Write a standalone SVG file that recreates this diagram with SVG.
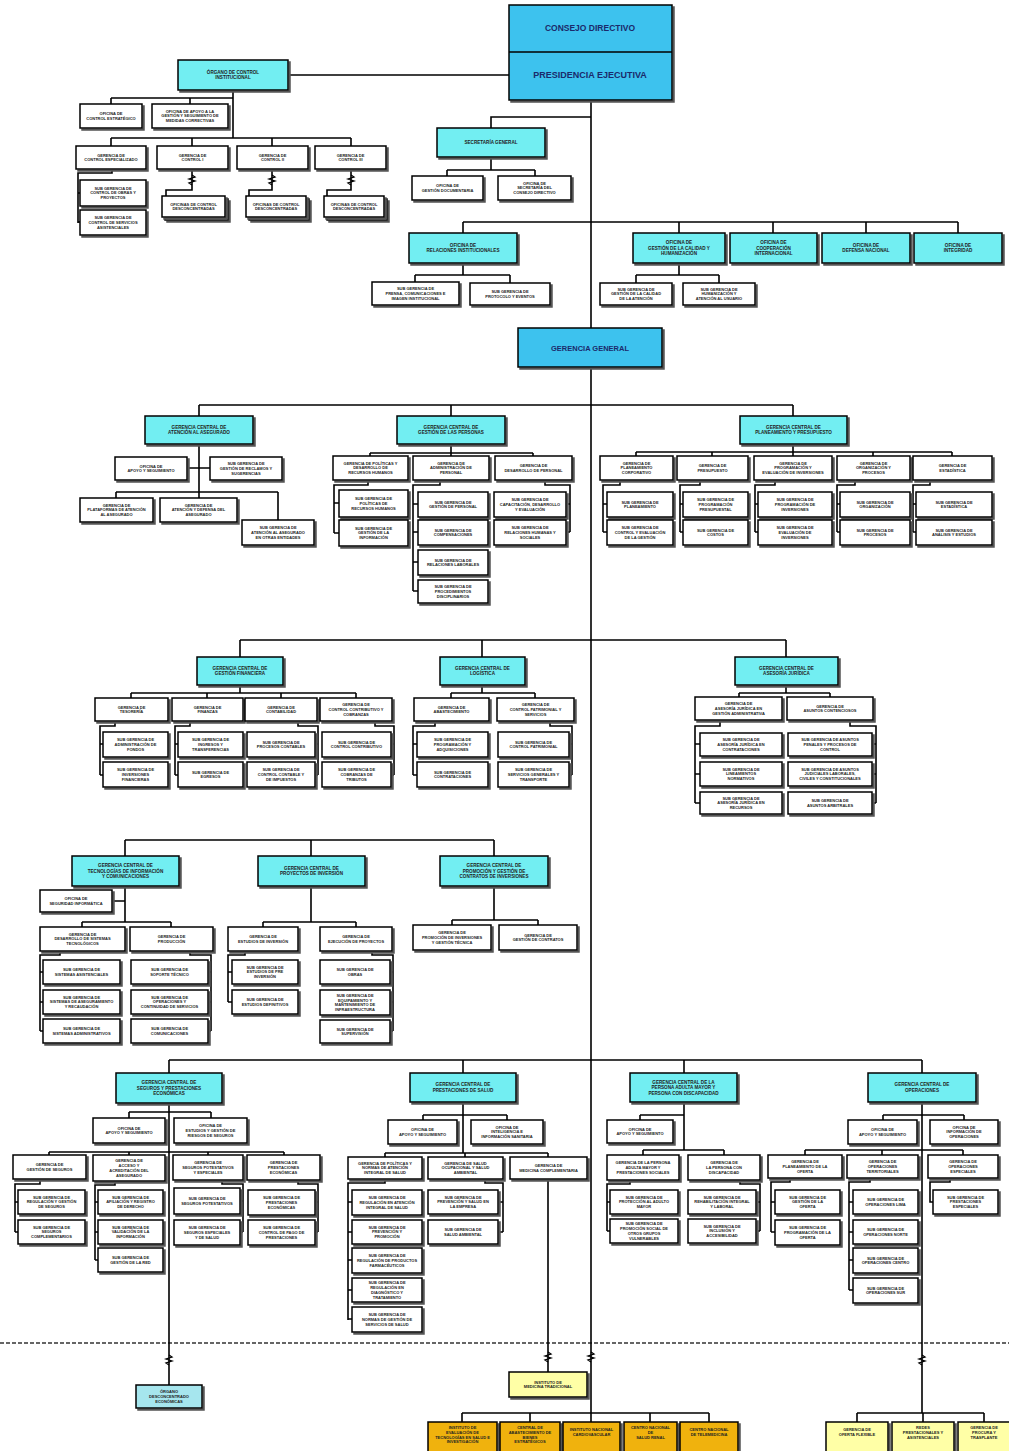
<svg xmlns="http://www.w3.org/2000/svg" width="1009" height="1451" viewBox="0 0 1009 1451">
<defs>
<filter id="ds" x="-10%" y="-10%" width="130%" height="150%">
<feOffset in="SourceAlpha" dx="2" dy="2" result="o"/>
<feFlood flood-color="#555"/>
<feComposite in2="o" operator="in"/>
<feMerge><feMergeNode/><feMergeNode in="SourceGraphic"/></feMerge>
</filter>
<style>
.w{fill:#fff;stroke:#000;stroke-width:1.5;filter:url(#ds)}
.c{fill:#72EEF2;stroke:#000;stroke-width:1.5;filter:url(#ds)}
.b{fill:#3CC2EE;stroke:#000;stroke-width:1.5;filter:url(#ds)}
.o{fill:#F0B210;stroke:#000;stroke-width:1.5;filter:url(#ds)}
.y{fill:#FFFFA6;stroke:#000;stroke-width:1.5;filter:url(#ds)}
.lb{fill:#A6E6EE;stroke:#000;stroke-width:1.5;filter:url(#ds)}
.t{font-family:"Liberation Sans",Arial,sans-serif;font-weight:bold;font-size:4px;text-anchor:middle;fill:#222}
.tc{font-family:"Liberation Sans",Arial,sans-serif;font-weight:bold;font-size:4.6px;text-anchor:middle;fill:#222}
.tb{font-family:"Liberation Sans",Arial,sans-serif;font-weight:bold;text-anchor:middle;fill:#1b2a6b}
.ln{fill:none;stroke:#000;stroke-width:1.6}
.br{fill:none;stroke:#000;stroke-width:1.3}
.dash{fill:none;stroke:#333;stroke-width:1.5;stroke-dasharray:4 2}
</style>
</defs>
<rect width="1009" height="1451" fill="#fff"/>

<g id="connectors">
<path class="dash" d="M0,1343H1009"/>
<path class="ln" d="M591,100V328M591,367V1413"/>
<path class="ln" d="M288,75H509M233,90V138M111,98H233M111,98V104M190,98V104M111,138H351M111,138V146M192,138V146M272,138V146M351,138V146"/>
<path class="ln" d="M112,169V173H78V223M78,193H80M78,222H80M192,169V190H166V196M272,169V190H249V196M351,169V190H327V196"/>
<path class="br" d="M192,175l3,2l-6,2l6,2l-6,2l3,2M272,175l3,2l-6,2l6,2l-6,2l3,2M351,175l3,2l-6,2l6,2l-6,2l3,2"/>
<path class="ln" d="M591,117H491V128M491,157V170M447,170H535M447,170V176M535,170V176"/>
<path class="ln" d="M463,222H958M463,222V233M679,222V233M773,222V233M866,222V233M958,222V233"/>
<path class="ln" d="M463,263V275M415,275H510M415,275V282M510,275V283M679,263V275M636,275H719M636,275V283M719,275V283"/>
<path class="ln" d="M199,405H793M199,405V416M451,405V416M793,405V416"/>
<path class="ln" d="M199,444V498M187,468H210M116,492H278M116,492V498M278,492V520"/>
<path class="ln" d="M451,444V456M370,453H533M370,453V456M533,453V456"/>
<path class="ln" d="M368,480V485H334V533M334,503H339M334,533H339M440,480V485H413V591M413,504H418M413,532H418M413,562H418M413,591H418M545,480V485H570V532M570,504H566M570,532H566"/>
<path class="ln" d="M793,444V456M636,452H952M636,452V456M712,452V456M873,452V456M952,452V456"/>
<path class="ln" d="M620,480V485H603V532M603,504H607M603,532H607M700,480V485H680V532M680,504H683M680,532H683M775,480V485H755V532M755,504H758M755,532H758M855,480V485H837V532M837,504H840M837,532H840M930,480V485H913V532M913,504H916M913,532H916"/>
<path class="ln" d="M240,640H786M240,640V657M482,640V657M786,640V657"/>
<path class="ln" d="M240,685V693M131,693H356M131,693V698M207,693V698M281,693V698M356,693V698"/>
<path class="ln" d="M115,721V726H100V775M100,744H103M100,775H103M190,721V726H175V775M175,744H178M175,775H178M298,721V726H318V775M318,744H315M318,775H315M375,721V726H394V775M394,744H391M394,775H391"/>
<path class="ln" d="M482,685V693M451,693H535M451,693V698M535,693V698M435,721V726H413V775M413,744H417M413,775H417M550,721V726H572V775M572,744H569M572,775H569"/>
<path class="ln" d="M786,685V693M739,693H830M739,693V697M830,693V697M720,720V726H695V803M695,744H700M695,774H700M695,803H700M850,720V726H876V803M876,744H872M876,774H872M876,803H872"/>
<path class="ln" d="M125,840H494M125,840V856M311,840V856M494,840V856"/>
<path class="ln" d="M125,886V922M112,901H125M82,922H171M82,922V927M171,922V927M60,951V955H40V1031M40,972H43M40,1002H43M40,1031H43M190,951V955H211V1031M211,972H208M211,1002H208M211,1031H208"/>
<path class="ln" d="M311,886V922M263,922H356M263,922V927M356,922V927M245,951V955H228V1002M228,972H232M228,1002H232M372,951V955H393V1031M393,972H390M393,1002H390M393,1031H390"/>
<path class="ln" d="M494,886V920M452,920H538M452,920V925M538,920V925"/>
<path class="ln" d="M169,1060H922M169,1060V1073M463,1060V1073M684,1060V1073M922,1060V1073"/>
<path class="ln" d="M169,1103V1385M129,1112H211M129,1112V1118M211,1112V1118M49,1152H284M49,1152V1155M129,1152V1155M208,1152V1155M284,1152V1155"/>
<path class="ln" d="M40,1179V1184H15V1232M15,1202H18M15,1232H18M115,1181V1185H95V1260M95,1202H98M95,1232H98M95,1260H98M222,1180V1184H243V1232M243,1201H240M243,1232H240M298,1180V1184H318V1232M318,1202H315M318,1232H315"/>
<path class="ln" d="M463,1102V1153M423,1115H507M423,1115V1120M507,1115V1120M385,1153H548M385,1153V1157M465,1153V1157M548,1153V1157"/>
<path class="ln" d="M385,1179V1183H348V1320M348,1202H352M348,1232H352M348,1260H352M348,1290H352M348,1319H352M485,1179V1183H503V1232M503,1202H498M503,1232H498M548,1179V1372"/>
<path class="ln" d="M684,1102V1150M640,1115H684M640,1115V1120M643,1150H724M643,1150V1155M724,1150V1155M630,1180V1184H607V1231M607,1202H610M607,1231H610M740,1180V1184H760V1231M760,1202H756M760,1231H756"/>
<path class="ln" d="M922,1102V1413M883,1115H964M883,1115V1120M964,1115V1120M805,1150H963M805,1150V1155M882,1150V1155M963,1150V1155"/>
<path class="ln" d="M790,1178V1182H771V1232M771,1202H775M771,1232H775M870,1178V1182H849V1290M849,1202H853M849,1232H853M849,1260H853M849,1290H853M950,1178V1182H930V1202H933"/>
<path class="ln" d="M462,1413H709M462,1413V1422M530,1413V1422M591,1413V1422M650,1413V1422M709,1413V1422M857,1413H984M857,1413V1422M923,1413V1422M984,1413V1422"/>
<path class="br" d="M169,1355l3,2l-6,2l6,2l-6,2l3,2M548,1352l3,2l-6,2l6,2l-6,2l3,2M591,1352l3,2l-6,2l6,2l-6,2l3,2M922,1355l3,2l-6,2l6,2l-6,2l3,2"/>
</g>

<g id="presidencia">
<rect class="b" x="509" y="5" width="163" height="95"/>
<path d="M509,52H672" stroke="#000" stroke-width="1.5"/>
<text class="tb" x="590" y="31" font-size="8.5">CONSEJO DIRECTIVO</text>
<text class="tb" x="590" y="78" font-size="9">PRESIDENCIA EJECUTIVA</text>
</g>

<g id="oci">
<rect class="c" x="178" y="60" width="110" height="30"/>
<text class="tc" x="233" y="74">ÓRGANO DE CONTROL<tspan x="233" dy="5.4">INSTITUCIONAL</tspan></text>
</g>
<g id="oci-1"><rect class="w" x="80" y="104" width="62" height="24"/><text class="t" x="111" y="115">OFICINA DE<tspan x="111" dy="4.8">CONTROL ESTRATÉGICO</tspan></text></g>
<g id="oci-2"><rect class="w" x="152" y="104" width="76" height="24"/><text class="t" x="190" y="112.6">OFICINA DE APOYO A LA<tspan x="190" dy="4.8">GESTIÓN Y SEGUIMIENTO DE</tspan><tspan x="190" dy="4.8">MEDIDAS CORRECTIVAS</tspan></text></g>
<g id="oci-3"><rect class="w" x="76" y="146" width="70" height="23"/><text class="t" x="111" y="156.5">GERENCIA DE<tspan x="111" dy="4.8">CONTROL ESPECIALIZADO</tspan></text></g>
<g id="oci-4"><rect class="w" x="157" y="146" width="71" height="23"/><text class="t" x="192.5" y="156.5">GERENCIA DE<tspan x="192.5" dy="4.8">CONTROL I</tspan></text></g>
<g id="oci-5"><rect class="w" x="237" y="146" width="71" height="23"/><text class="t" x="272.5" y="156.5">GERENCIA DE<tspan x="272.5" dy="4.8">CONTROL II</tspan></text></g>
<g id="oci-6"><rect class="w" x="315" y="146" width="71" height="23"/><text class="t" x="350.5" y="156.5">GERENCIA DE<tspan x="350.5" dy="4.8">CONTROL III</tspan></text></g>
<g id="oci-7"><rect class="w" x="80" y="180" width="66" height="26"/><text class="t" x="113" y="189.6">SUB GERENCIA DE<tspan x="113" dy="4.8">CONTROL DE OBRAS Y</tspan><tspan x="113" dy="4.8">PROYECTOS</tspan></text></g>
<g id="oci-8"><rect class="w" x="80" y="210" width="66" height="25"/><text class="t" x="113" y="219.1">SUB GERENCIA DE<tspan x="113" dy="4.8">CONTROL DE SERVICIOS</tspan><tspan x="113" dy="4.8">ASISTENCIALES</tspan></text></g>
<g id="oci-9"><rect class="w" x="165" y="199" width="63" height="21"/><rect class="w" x="162" y="196" width="63" height="21"/><text class="t" x="193.5" y="205.5">OFICINAS DE CONTROL<tspan x="193.5" dy="4.8">DESCONCENTRADAS</tspan></text></g>
<g id="oci-10"><rect class="w" x="249" y="199" width="60" height="21"/><rect class="w" x="246" y="196" width="60" height="21"/><text class="t" x="276" y="205.5">OFICINAS DE CONTROL<tspan x="276" dy="4.8">DESCONCENTRADAS</tspan></text></g>
<g id="oci-11"><rect class="w" x="327" y="199" width="60" height="21"/><rect class="w" x="324" y="196" width="60" height="21"/><text class="t" x="354" y="205.5">OFICINAS DE CONTROL<tspan x="354" dy="4.8">DESCONCENTRADAS</tspan></text></g>

<g id="secretaria"><rect class="c" x="437" y="128" width="108" height="29"/><text class="tc" x="491" y="144.1">SECRETARÍA GENERAL</text></g>
<g id="sg-1"><rect class="w" x="412" y="176" width="71" height="24"/><text class="t" x="447.5" y="187">OFICINA DE<tspan x="447.5" dy="4.8">GESTIÓN DOCUMENTARIA</tspan></text></g>
<g id="sg-2"><rect class="w" x="498" y="176" width="73" height="24"/><text class="t" x="534.5" y="184.6">OFICINA DE<tspan x="534.5" dy="4.8">SECRETARÍA DEL</tspan><tspan x="534.5" dy="4.8">CONSEJO DIRECTIVO</tspan></text></g>

<g id="of-ri"><rect class="c" x="409" y="233" width="108" height="30"/><text class="tc" x="463" y="246.9">OFICINA DE<tspan x="463" dy="5.4">RELACIONES INSTITUCIONALES</tspan></text></g>
<g id="of-cal"><rect class="c" x="633" y="233" width="92" height="30"/><text class="tc" x="679" y="244.2">OFICINA DE<tspan x="679" dy="5.4">GESTIÓN DE LA CALIDAD Y</tspan><tspan x="679" dy="5.4">HUMANIZACIÓN</tspan></text></g>
<g id="of-coop"><rect class="c" x="730" y="233" width="87" height="30"/><text class="tc" x="773.5" y="244.2">OFICINA DE<tspan x="773.5" dy="5.4">COOPERACIÓN</tspan><tspan x="773.5" dy="5.4">INTERNACIONAL</tspan></text></g>
<g id="of-def"><rect class="c" x="822" y="233" width="88" height="30"/><text class="tc" x="866" y="246.9">OFICINA DE<tspan x="866" dy="5.4">DEFENSA NACIONAL</tspan></text></g>
<g id="of-int"><rect class="c" x="914" y="233" width="88" height="30"/><text class="tc" x="958" y="246.9">OFICINA DE<tspan x="958" dy="5.4">INTEGRIDAD</tspan></text></g>
<g id="ri-1"><rect class="w" x="372" y="282" width="87" height="23"/><text class="t" x="415.5" y="290.1">SUB GERENCIA DE<tspan x="415.5" dy="4.8">PRENSA, COMUNICACIONES E</tspan><tspan x="415.5" dy="4.8">IMAGEN INSTITUCIONAL</tspan></text></g>
<g id="ri-2"><rect class="w" x="470" y="283" width="80" height="22"/><text class="t" x="510" y="293">SUB GERENCIA DE<tspan x="510" dy="4.8">PROTOCOLO Y EVENTOS</tspan></text></g>
<g id="cal-1"><rect class="w" x="600" y="283" width="72" height="22"/><text class="t" x="636" y="290.6">SUB GERENCIA DE<tspan x="636" dy="4.8">GESTIÓN DE LA CALIDAD</tspan><tspan x="636" dy="4.8">DE LA ATENCIÓN</tspan></text></g>
<g id="cal-2"><rect class="w" x="683" y="283" width="72" height="22"/><text class="t" x="719" y="290.6">SUB GERENCIA DE<tspan x="719" dy="4.8">HUMANIZACIÓN Y</tspan><tspan x="719" dy="4.8">ATENCIÓN AL USUARIO</tspan></text></g>

<g id="gerencia-general"><rect class="b" x="518" y="328" width="144" height="39"/><text class="tb" x="590" y="350.5" font-size="7.5">GERENCIA GENERAL</text></g>

<g id="gc-atencion"><rect class="c" x="145" y="416" width="108" height="28"/><text class="tc" x="199" y="428.9">GERENCIA CENTRAL DE<tspan x="199" dy="5.4">ATENCIÓN AL ASEGURADO</tspan></text></g>
<g id="ga-1"><rect class="w" x="115" y="457" width="72" height="23"/><text class="t" x="151" y="467.5">OFICINA DE<tspan x="151" dy="4.8">APOYO Y SEGUIMIENTO</tspan></text></g>
<g id="ga-2"><rect class="w" x="210" y="457" width="72" height="23"/><text class="t" x="246" y="465.1">SUB GERENCIA DE<tspan x="246" dy="4.8">GESTIÓN DE RECLAMOS Y</tspan><tspan x="246" dy="4.8">SUGERENCIAS</tspan></text></g>
<g id="ga-3"><rect class="w" x="80" y="498" width="73" height="24"/><text class="t" x="116.5" y="506.6">GERENCIA DE<tspan x="116.5" dy="4.8">PLATAFORMAS DE ATENCIÓN</tspan><tspan x="116.5" dy="4.8">AL ASEGURADO</tspan></text></g>
<g id="ga-4"><rect class="w" x="160" y="498" width="77" height="24"/><text class="t" x="198.5" y="506.6">GERENCIA DE<tspan x="198.5" dy="4.8">ATENCIÓN Y DEFENSA DEL</tspan><tspan x="198.5" dy="4.8">ASEGURADO</tspan></text></g>
<g id="ga-5"><rect class="w" x="242" y="520" width="72" height="25"/><text class="t" x="278" y="529.1">SUB GERENCIA DE<tspan x="278" dy="4.8">ATENCIÓN AL ASEGURADO</tspan><tspan x="278" dy="4.8">EN OTRAS ENTIDADES</tspan></text></g>

<g id="gc-personas"><rect class="c" x="397" y="416" width="108" height="28"/><text class="tc" x="451" y="428.9">GERENCIA CENTRAL DE<tspan x="451" dy="5.4">GESTIÓN DE LAS PERSONAS</tspan></text></g>
<g id="gp-1"><rect class="w" x="333" y="456" width="75" height="24"/><text class="t" x="370.5" y="464.6">GERENCIA DE POLÍTICAS Y<tspan x="370.5" dy="4.8">DESARROLLO DE</tspan><tspan x="370.5" dy="4.8">RECURSOS HUMANOS</tspan></text></g>
<g id="gp-2"><rect class="w" x="413" y="456" width="76" height="24"/><text class="t" x="451" y="464.6">GERENCIA DE<tspan x="451" dy="4.8">ADMINISTRACIÓN DE</tspan><tspan x="451" dy="4.8">PERSONAL</tspan></text></g>
<g id="gp-3"><rect class="w" x="495" y="456" width="77" height="24"/><text class="t" x="533.5" y="467">GERENCIA DE<tspan x="533.5" dy="4.8">DESARROLLO DE PERSONAL</tspan></text></g>
<g id="gp-4"><rect class="w" x="339" y="490" width="69" height="27"/><text class="t" x="373.5" y="500.1">SUB GERENCIA DE<tspan x="373.5" dy="4.8">POLÍTICAS DE</tspan><tspan x="373.5" dy="4.8">RECURSOS HUMANOS</tspan></text></g>
<g id="gp-5"><rect class="w" x="339" y="520" width="69" height="26"/><text class="t" x="373.5" y="529.6">SUB GERENCIA DE<tspan x="373.5" dy="4.8">GESTIÓN DE LA</tspan><tspan x="373.5" dy="4.8">INFORMACIÓN</tspan></text></g>
<g id="gp-6"><rect class="w" x="418" y="492" width="70" height="25"/><text class="t" x="453" y="503.5">SUB GERENCIA DE<tspan x="453" dy="4.8">GESTIÓN DE PERSONAL</tspan></text></g>
<g id="gp-7"><rect class="w" x="418" y="520" width="70" height="25"/><text class="t" x="453" y="531.5">SUB GERENCIA DE<tspan x="453" dy="4.8">COMPENSACIONES</tspan></text></g>
<g id="gp-8"><rect class="w" x="418" y="550" width="70" height="25"/><text class="t" x="453" y="561.5">SUB GERENCIA DE<tspan x="453" dy="4.8">RELACIONES LABORALES</tspan></text></g>
<g id="gp-9"><rect class="w" x="418" y="580" width="70" height="23"/><text class="t" x="453" y="588.1">SUB GERENCIA DE<tspan x="453" dy="4.8">PROCEDIMIENTOS</tspan><tspan x="453" dy="4.8">DISCIPLINARIOS</tspan></text></g>
<g id="gp-10"><rect class="w" x="494" y="492" width="72" height="25"/><text class="t" x="530" y="501.1">SUB GERENCIA DE<tspan x="530" dy="4.8">CAPACITACIÓN, DESARROLLO</tspan><tspan x="530" dy="4.8">Y EVALUACIÓN</tspan></text></g>
<g id="gp-11"><rect class="w" x="494" y="520" width="72" height="25"/><text class="t" x="530" y="529.1">SUB GERENCIA DE<tspan x="530" dy="4.8">RELACIONES HUMANAS Y</tspan><tspan x="530" dy="4.8">SOCIALES</tspan></text></g>

<g id="gc-planeamiento"><rect class="c" x="740" y="416" width="107" height="28"/><text class="tc" x="793.5" y="428.9">GERENCIA CENTRAL DE<tspan x="793.5" dy="5.4">PLANEAMIENTO Y PRESUPUESTO</tspan></text></g>
<g id="pp-1"><rect class="w" x="600" y="456" width="73" height="24"/><text class="t" x="636.5" y="464.6">GERENCIA DE<tspan x="636.5" dy="4.8">PLANEAMIENTO</tspan><tspan x="636.5" dy="4.8">CORPORATIVO</tspan></text></g>
<g id="pp-2"><rect class="w" x="677" y="456" width="71" height="24"/><text class="t" x="712.5" y="467">GERENCIA DE<tspan x="712.5" dy="4.8">PRESUPUESTO</tspan></text></g>
<g id="pp-3"><rect class="w" x="754" y="456" width="78" height="24"/><text class="t" x="793" y="464.6">GERENCIA DE<tspan x="793" dy="4.8">PROGRAMACIÓN Y</tspan><tspan x="793" dy="4.8">EVALUACIÓN DE INVERSIONES</tspan></text></g>
<g id="pp-4"><rect class="w" x="837" y="456" width="73" height="24"/><text class="t" x="873.5" y="464.6">GERENCIA DE<tspan x="873.5" dy="4.8">ORGANIZACIÓN Y</tspan><tspan x="873.5" dy="4.8">PROCESOS</tspan></text></g>
<g id="pp-5"><rect class="w" x="913" y="456" width="79" height="24"/><text class="t" x="952.5" y="467">GERENCIA DE<tspan x="952.5" dy="4.8">ESTADÍSTICA</tspan></text></g>
<g id="pp-6"><rect class="w" x="607" y="492" width="66" height="25"/><text class="t" x="640" y="503.5">SUB GERENCIA DE<tspan x="640" dy="4.8">PLANEAMIENTO</tspan></text></g>
<g id="pp-7"><rect class="w" x="607" y="520" width="66" height="25"/><text class="t" x="640" y="529.1">SUB GERENCIA DE<tspan x="640" dy="4.8">CONTROL Y EVALUACIÓN</tspan><tspan x="640" dy="4.8">DE LA GESTIÓN</tspan></text></g>
<g id="pp-8"><rect class="w" x="683" y="492" width="65" height="25"/><text class="t" x="715.5" y="501.1">SUB GERENCIA DE<tspan x="715.5" dy="4.8">PROGRAMACIÓN</tspan><tspan x="715.5" dy="4.8">PRESUPUESTAL</tspan></text></g>
<g id="pp-9"><rect class="w" x="683" y="520" width="65" height="25"/><text class="t" x="715.5" y="531.5">SUB GERENCIA DE<tspan x="715.5" dy="4.8">COSTOS</tspan></text></g>
<g id="pp-10"><rect class="w" x="758" y="492" width="74" height="25"/><text class="t" x="795" y="501.1">SUB GERENCIA DE<tspan x="795" dy="4.8">PROGRAMACIÓN DE</tspan><tspan x="795" dy="4.8">INVERSIONES</tspan></text></g>
<g id="pp-11"><rect class="w" x="758" y="520" width="74" height="25"/><text class="t" x="795" y="529.1">SUB GERENCIA DE<tspan x="795" dy="4.8">EVALUACIÓN DE</tspan><tspan x="795" dy="4.8">INVERSIONES</tspan></text></g>
<g id="pp-12"><rect class="w" x="840" y="492" width="70" height="25"/><text class="t" x="875" y="503.5">SUB GERENCIA DE<tspan x="875" dy="4.8">ORGANIZACIÓN</tspan></text></g>
<g id="pp-13"><rect class="w" x="840" y="520" width="70" height="25"/><text class="t" x="875" y="531.5">SUB GERENCIA DE<tspan x="875" dy="4.8">PROCESOS</tspan></text></g>
<g id="pp-14"><rect class="w" x="916" y="492" width="76" height="25"/><text class="t" x="954" y="503.5">SUB GERENCIA DE<tspan x="954" dy="4.8">ESTADÍSTICA</tspan></text></g>
<g id="pp-15"><rect class="w" x="916" y="520" width="76" height="25"/><text class="t" x="954" y="531.5">SUB GERENCIA DE<tspan x="954" dy="4.8">ANÁLISIS Y ESTUDIOS</tspan></text></g>

<g id="gc-financiera"><rect class="c" x="197" y="657" width="86" height="28"/><text class="tc" x="240" y="669.9">GERENCIA CENTRAL DE<tspan x="240" dy="5.4">GESTIÓN FINANCIERA</tspan></text></g>
<g id="gf-1"><rect class="w" x="95" y="698" width="73" height="23"/><text class="t" x="131.5" y="708.5">GERENCIA DE<tspan x="131.5" dy="4.8">TESORERÍA</tspan></text></g>
<g id="gf-2"><rect class="w" x="172" y="698" width="71" height="23"/><text class="t" x="207.5" y="708.5">GERENCIA DE<tspan x="207.5" dy="4.8">FINANZAS</tspan></text></g>
<g id="gf-3"><rect class="w" x="245" y="698" width="72" height="23"/><text class="t" x="281" y="708.5">GERENCIA DE<tspan x="281" dy="4.8">CONTABILIDAD</tspan></text></g>
<g id="gf-4"><rect class="w" x="320" y="698" width="72" height="23"/><text class="t" x="356" y="706.1">GERENCIA DE<tspan x="356" dy="4.8">CONTROL CONTRIBUTIVO Y</tspan><tspan x="356" dy="4.8">COBRANZAS</tspan></text></g>
<g id="gf-5"><rect class="w" x="103" y="732" width="65" height="25"/><text class="t" x="135.5" y="741.1">SUB GERENCIA DE<tspan x="135.5" dy="4.8">ADMINISTRACIÓN DE</tspan><tspan x="135.5" dy="4.8">FONDOS</tspan></text></g>
<g id="gf-6"><rect class="w" x="103" y="762" width="65" height="25"/><text class="t" x="135.5" y="771.1">SUB GERENCIA DE<tspan x="135.5" dy="4.8">INVERSIONES</tspan><tspan x="135.5" dy="4.8">FINANCIERAS</tspan></text></g>
<g id="gf-7"><rect class="w" x="178" y="732" width="65" height="25"/><text class="t" x="210.5" y="741.1">SUB GERENCIA DE<tspan x="210.5" dy="4.8">INGRESOS Y</tspan><tspan x="210.5" dy="4.8">TRANSFERENCIAS</tspan></text></g>
<g id="gf-8"><rect class="w" x="178" y="762" width="65" height="25"/><text class="t" x="210.5" y="773.5">SUB GERENCIA DE<tspan x="210.5" dy="4.8">EGRESOS</tspan></text></g>
<g id="gf-9"><rect class="w" x="247" y="732" width="68" height="25"/><text class="t" x="281" y="743.5">SUB GERENCIA DE<tspan x="281" dy="4.8">PROCESOS CONTABLES</tspan></text></g>
<g id="gf-10"><rect class="w" x="247" y="762" width="68" height="25"/><text class="t" x="281" y="771.1">SUB GERENCIA DE<tspan x="281" dy="4.8">CONTROL CONTABLE Y</tspan><tspan x="281" dy="4.8">DE IMPUESTOS</tspan></text></g>
<g id="gf-11"><rect class="w" x="322" y="732" width="69" height="25"/><text class="t" x="356.5" y="743.5">SUB GERENCIA DE<tspan x="356.5" dy="4.8">CONTROL CONTRIBUTIVO</tspan></text></g>
<g id="gf-12"><rect class="w" x="322" y="762" width="69" height="25"/><text class="t" x="356.5" y="771.1">SUB GERENCIA DE<tspan x="356.5" dy="4.8">COBRANZAS DE</tspan><tspan x="356.5" dy="4.8">TRIBUTOS</tspan></text></g>

<g id="gc-logistica"><rect class="c" x="440" y="657" width="85" height="28"/><text class="tc" x="482.5" y="669.9">GERENCIA CENTRAL DE<tspan x="482.5" dy="5.4">LOGÍSTICA</tspan></text></g>
<g id="gl-1"><rect class="w" x="414" y="698" width="75" height="23"/><text class="t" x="451.5" y="708.5">GERENCIA DE<tspan x="451.5" dy="4.8">ABASTECIMIENTO</tspan></text></g>
<g id="gl-2"><rect class="w" x="497" y="698" width="77" height="23"/><text class="t" x="535.5" y="706.1">GERENCIA DE<tspan x="535.5" dy="4.8">CONTROL PATRIMONIAL Y</tspan><tspan x="535.5" dy="4.8">SERVICIOS</tspan></text></g>
<g id="gl-3"><rect class="w" x="417" y="732" width="71" height="25"/><text class="t" x="452.5" y="741.1">SUB GERENCIA DE<tspan x="452.5" dy="4.8">PROGRAMACIÓN Y</tspan><tspan x="452.5" dy="4.8">ADQUISICIONES</tspan></text></g>
<g id="gl-4"><rect class="w" x="417" y="762" width="71" height="25"/><text class="t" x="452.5" y="773.5">SUB GERENCIA DE<tspan x="452.5" dy="4.8">CONTRATACIONES</tspan></text></g>
<g id="gl-5"><rect class="w" x="498" y="732" width="71" height="25"/><text class="t" x="533.5" y="743.5">SUB GERENCIA DE<tspan x="533.5" dy="4.8">CONTROL PATRIMONIAL</tspan></text></g>
<g id="gl-6"><rect class="w" x="498" y="762" width="71" height="25"/><text class="t" x="533.5" y="771.1">SUB GERENCIA DE<tspan x="533.5" dy="4.8">SERVICIOS GENERALES Y</tspan><tspan x="533.5" dy="4.8">TRANSPORTE</tspan></text></g>

<g id="gc-juridica"><rect class="c" x="735" y="657" width="103" height="28"/><text class="tc" x="786.5" y="669.9">GERENCIA CENTRAL DE<tspan x="786.5" dy="5.4">ASESORÍA JURÍDICA</tspan></text></g>
<g id="gj-1"><rect class="w" x="695" y="697" width="87" height="23"/><text class="t" x="738.5" y="705.1">GERENCIA DE<tspan x="738.5" dy="4.8">ASESORÍA JURÍDICA EN</tspan><tspan x="738.5" dy="4.8">GESTIÓN ADMINISTRATIVA</tspan></text></g>
<g id="gj-2"><rect class="w" x="787" y="697" width="86" height="23"/><text class="t" x="830" y="707.5">GERENCIA DE<tspan x="830" dy="4.8">ASUNTOS CONTENCIOSOS</tspan></text></g>
<g id="gj-3"><rect class="w" x="700" y="733" width="82" height="23"/><text class="t" x="741" y="741.1">SUB GERENCIA DE<tspan x="741" dy="4.8">ASESORÍA JURÍDICA EN</tspan><tspan x="741" dy="4.8">CONTRATACIONES</tspan></text></g>
<g id="gj-4"><rect class="w" x="700" y="762" width="82" height="24"/><text class="t" x="741" y="770.6">SUB GERENCIA DE<tspan x="741" dy="4.8">LINEAMIENTOS</tspan><tspan x="741" dy="4.8">NORMATIVOS</tspan></text></g>
<g id="gj-5"><rect class="w" x="700" y="792" width="82" height="22"/><text class="t" x="741" y="799.6">SUB GERENCIA DE<tspan x="741" dy="4.8">ASESORÍA JURÍDICA EN</tspan><tspan x="741" dy="4.8">RECURSOS</tspan></text></g>
<g id="gj-6"><rect class="w" x="788" y="733" width="84" height="23"/><text class="t" x="830" y="741.1">SUB GERENCIA DE ASUNTOS<tspan x="830" dy="4.8">PENALES Y PROCESOS DE</tspan><tspan x="830" dy="4.8">CONTROL</tspan></text></g>
<g id="gj-7"><rect class="w" x="788" y="762" width="84" height="24"/><text class="t" x="830" y="770.6">SUB GERENCIA DE ASUNTOS<tspan x="830" dy="4.8">JUDICIALES LABORALES,</tspan><tspan x="830" dy="4.8">CIVILES Y CONSTITUCIONALES</tspan></text></g>
<g id="gj-8"><rect class="w" x="788" y="792" width="84" height="22"/><text class="t" x="830" y="802">SUB GERENCIA DE<tspan x="830" dy="4.8">ASUNTOS ARBITRALES</tspan></text></g>

<g id="gc-ti"><rect class="c" x="72" y="856" width="107" height="30"/><text class="tc" x="125.5" y="867.2">GERENCIA CENTRAL DE<tspan x="125.5" dy="5.4">TECNOLOGÍAS DE INFORMACIÓN</tspan><tspan x="125.5" dy="5.4">Y COMUNICACIONES</tspan></text></g>
<g id="ti-1"><rect class="w" x="40" y="890" width="72" height="22"/><text class="t" x="76" y="900">OFICINA DE<tspan x="76" dy="4.8">SEGURIDAD INFORMÁTICA</tspan></text></g>
<g id="ti-2"><rect class="w" x="40" y="927" width="85" height="24"/><text class="t" x="82.5" y="935.6">GERENCIA DE<tspan x="82.5" dy="4.8">DESARROLLO DE SISTEMAS</tspan><tspan x="82.5" dy="4.8">TECNOLÓGICOS</tspan></text></g>
<g id="ti-3"><rect class="w" x="130" y="927" width="83" height="24"/><text class="t" x="171.5" y="938">GERENCIA DE<tspan x="171.5" dy="4.8">PRODUCCIÓN</tspan></text></g>
<g id="ti-4"><rect class="w" x="43" y="960" width="77" height="24"/><text class="t" x="81.5" y="971">SUB GERENCIA DE<tspan x="81.5" dy="4.8">SISTEMAS ASISTENCIALES</tspan></text></g>
<g id="ti-5"><rect class="w" x="43" y="990" width="77" height="24"/><text class="t" x="81.5" y="998.6">SUB GERENCIA DE<tspan x="81.5" dy="4.8">SISTEMAS DE ASEGURAMIENTO</tspan><tspan x="81.5" dy="4.8">Y RECAUDACIÓN</tspan></text></g>
<g id="ti-6"><rect class="w" x="43" y="1019" width="77" height="24"/><text class="t" x="81.5" y="1030">SUB GERENCIA DE<tspan x="81.5" dy="4.8">SISTEMAS ADMINISTRATIVOS</tspan></text></g>
<g id="ti-7"><rect class="w" x="131" y="960" width="77" height="24"/><text class="t" x="169.5" y="971">SUB GERENCIA DE<tspan x="169.5" dy="4.8">SOPORTE TÉCNICO</tspan></text></g>
<g id="ti-8"><rect class="w" x="131" y="990" width="77" height="24"/><text class="t" x="169.5" y="998.6">SUB GERENCIA DE<tspan x="169.5" dy="4.8">OPERACIONES Y</tspan><tspan x="169.5" dy="4.8">CONTINUIDAD DE SERVICIOS</tspan></text></g>
<g id="ti-9"><rect class="w" x="131" y="1019" width="77" height="24"/><text class="t" x="169.5" y="1030">SUB GERENCIA DE<tspan x="169.5" dy="4.8">COMUNICACIONES</tspan></text></g>

<g id="gc-proyectos"><rect class="c" x="258" y="856" width="107" height="30"/><text class="tc" x="311.5" y="869.9">GERENCIA CENTRAL DE<tspan x="311.5" dy="5.4">PROYECTOS DE INVERSIÓN</tspan></text></g>
<g id="pi-1"><rect class="w" x="228" y="927" width="70" height="24"/><text class="t" x="263" y="938">GERENCIA DE<tspan x="263" dy="4.8">ESTUDIOS DE INVERSIÓN</tspan></text></g>
<g id="pi-2"><rect class="w" x="320" y="927" width="72" height="24"/><text class="t" x="356" y="938">GERENCIA DE<tspan x="356" dy="4.8">EJECUCIÓN DE PROYECTOS</tspan></text></g>
<g id="pi-3"><rect class="w" x="232" y="960" width="66" height="24"/><text class="t" x="265" y="968.6">SUB GERENCIA DE<tspan x="265" dy="4.8">ESTUDIOS DE PRE</tspan><tspan x="265" dy="4.8">INVERSIÓN</tspan></text></g>
<g id="pi-4"><rect class="w" x="232" y="990" width="66" height="24"/><text class="t" x="265" y="1001">SUB GERENCIA DE<tspan x="265" dy="4.8">ESTUDIOS DEFINITIVOS</tspan></text></g>
<g id="pi-5"><rect class="w" x="320" y="960" width="70" height="24"/><text class="t" x="355" y="971">SUB GERENCIA DE<tspan x="355" dy="4.8">OBRAS</tspan></text></g>
<g id="pi-6"><rect class="w" x="320" y="990" width="70" height="25"/><text class="t" x="355" y="996.7">SUB GERENCIA DE<tspan x="355" dy="4.8">EQUIPAMIENTO Y</tspan><tspan x="355" dy="4.8">MANTENIMIENTO DE</tspan><tspan x="355" dy="4.8">INFRAESTRUCTURA</tspan></text></g>
<g id="pi-7"><rect class="w" x="320" y="1020" width="70" height="23"/><text class="t" x="355" y="1030.5">SUB GERENCIA DE<tspan x="355" dy="4.8">SUPERVISIÓN</tspan></text></g>

<g id="gc-promocion"><rect class="c" x="440" y="856" width="108" height="30"/><text class="tc" x="494" y="867.2">GERENCIA CENTRAL DE<tspan x="494" dy="5.4">PROMOCIÓN Y GESTIÓN DE</tspan><tspan x="494" dy="5.4">CONTRATOS DE INVERSIONES</tspan></text></g>
<g id="pg-1"><rect class="w" x="413" y="925" width="78" height="25"/><text class="t" x="452" y="934.1">GERENCIA DE<tspan x="452" dy="4.8">PROMOCIÓN DE INVERSIONES</tspan><tspan x="452" dy="4.8">Y GESTIÓN TÉCNICA</tspan></text></g>
<g id="pg-2"><rect class="w" x="499" y="925" width="78" height="25"/><text class="t" x="538" y="936.5">GERENCIA DE<tspan x="538" dy="4.8">GESTIÓN DE CONTRATOS</tspan></text></g>

<g id="gc-seguros"><rect class="c" x="116" y="1073" width="106" height="30"/><text class="tc" x="169" y="1084.2">GERENCIA CENTRAL DE<tspan x="169" dy="5.4">SEGUROS Y PRESTACIONES</tspan><tspan x="169" dy="5.4">ECONÓMICAS</tspan></text></g>
<g id="gs-1"><rect class="w" x="93" y="1118" width="72" height="25"/><text class="t" x="129" y="1129.5">OFICINA DE<tspan x="129" dy="4.8">APOYO Y SEGUIMIENTO</tspan></text></g>
<g id="gs-2"><rect class="w" x="174" y="1118" width="73" height="25"/><text class="t" x="210.5" y="1127.1">OFICINA DE<tspan x="210.5" dy="4.8">ESTUDIOS Y GESTIÓN DE</tspan><tspan x="210.5" dy="4.8">RIESGOS DE SEGUROS</tspan></text></g>
<g id="gs-3"><rect class="w" x="13" y="1155" width="73" height="24"/><text class="t" x="49.5" y="1166">GERENCIA DE<tspan x="49.5" dy="4.8">GESTIÓN DE SEGUROS</tspan></text></g>
<g id="gs-4"><rect class="w" x="93" y="1155" width="72" height="26"/><text class="t" x="129" y="1162.2">GERENCIA DE<tspan x="129" dy="4.8">ACCESO Y</tspan><tspan x="129" dy="4.8">ACREDITACIÓN DEL</tspan><tspan x="129" dy="4.8">ASEGURADO</tspan></text></g>
<g id="gs-5"><rect class="w" x="173" y="1155" width="70" height="25"/><text class="t" x="208" y="1164.1">GERENCIA DE<tspan x="208" dy="4.8">SEGUROS POTESTATIVOS</tspan><tspan x="208" dy="4.8">Y ESPECIALES</tspan></text></g>
<g id="gs-6"><rect class="w" x="247" y="1155" width="73" height="25"/><text class="t" x="283.5" y="1164.1">GERENCIA DE<tspan x="283.5" dy="4.8">PRESTACIONES</tspan><tspan x="283.5" dy="4.8">ECONÓMICAS</tspan></text></g>
<g id="gs-7"><rect class="w" x="18" y="1190" width="67" height="24"/><text class="t" x="51.5" y="1198.6">SUB GERENCIA DE<tspan x="51.5" dy="4.8">REGULACIÓN Y GESTIÓN</tspan><tspan x="51.5" dy="4.8">DE SEGUROS</tspan></text></g>
<g id="gs-8"><rect class="w" x="18" y="1220" width="67" height="24"/><text class="t" x="51.5" y="1228.6">SUB GERENCIA DE<tspan x="51.5" dy="4.8">SEGUROS</tspan><tspan x="51.5" dy="4.8">COMPLEMENTARIOS</tspan></text></g>
<g id="gs-9"><rect class="w" x="98" y="1190" width="65" height="24"/><text class="t" x="130.5" y="1198.6">SUB GERENCIA DE<tspan x="130.5" dy="4.8">AFILIACIÓN Y REGISTRO</tspan><tspan x="130.5" dy="4.8">DE DERECHO</tspan></text></g>
<g id="gs-10"><rect class="w" x="98" y="1220" width="65" height="24"/><text class="t" x="130.5" y="1228.6">SUB GERENCIA DE<tspan x="130.5" dy="4.8">VALIDACIÓN DE LA</tspan><tspan x="130.5" dy="4.8">INFORMACIÓN</tspan></text></g>
<g id="gs-11"><rect class="w" x="98" y="1248" width="65" height="24"/><text class="t" x="130.5" y="1259">SUB GERENCIA DE<tspan x="130.5" dy="4.8">GESTIÓN DE LA RED</tspan></text></g>
<g id="gs-12"><rect class="w" x="174" y="1188" width="66" height="26"/><text class="t" x="207" y="1200">SUB GERENCIA DE<tspan x="207" dy="4.8">SEGUROS POTESTATIVOS</tspan></text></g>
<g id="gs-13"><rect class="w" x="174" y="1220" width="66" height="25"/><text class="t" x="207" y="1229.1">SUB GERENCIA DE<tspan x="207" dy="4.8">SEGUROS ESPECIALES</tspan><tspan x="207" dy="4.8">Y DE SALUD</tspan></text></g>
<g id="gs-14"><rect class="w" x="248" y="1190" width="67" height="25"/><text class="t" x="281.5" y="1199.1">SUB GERENCIA DE<tspan x="281.5" dy="4.8">PRESTACIONES</tspan><tspan x="281.5" dy="4.8">ECONÓMICAS</tspan></text></g>
<g id="gs-15"><rect class="w" x="248" y="1220" width="67" height="25"/><text class="t" x="281.5" y="1229.1">SUB GERENCIA DE<tspan x="281.5" dy="4.8">CONTROL DE PAGO DE</tspan><tspan x="281.5" dy="4.8">PRESTACIONES</tspan></text></g>
<g id="gs-des"><rect class="lb" x="136" y="1385" width="66" height="23"/><text class="t" x="169" y="1393.1">ÓRGANO<tspan x="169" dy="4.8">DESCONCENTRADO</tspan><tspan x="169" dy="4.8">ECONÓMICAS</tspan></text></g>

<g id="gc-prestaciones"><rect class="c" x="410" y="1073" width="106" height="29"/><text class="tc" x="463" y="1086.4">GERENCIA CENTRAL DE<tspan x="463" dy="5.4">PRESTACIONES DE SALUD</tspan></text></g>
<g id="ps-1"><rect class="w" x="388" y="1120" width="69" height="24"/><text class="t" x="422.5" y="1131">OFICINA DE<tspan x="422.5" dy="4.8">APOYO Y SEGUIMIENTO</tspan></text></g>
<g id="ps-2"><rect class="w" x="471" y="1120" width="72" height="24"/><text class="t" x="507" y="1128.6">OFICINA DE<tspan x="507" dy="4.8">INTELIGENCIA E</tspan><tspan x="507" dy="4.8">INFORMACIÓN SANITARIA</tspan></text></g>
<g id="ps-3"><rect class="w" x="348" y="1157" width="74" height="22"/><text class="t" x="385" y="1164.6">GERENCIA DE POLÍTICAS Y<tspan x="385" dy="4.8">NORMAS DE ATENCIÓN</tspan><tspan x="385" dy="4.8">INTEGRAL DE SALUD</tspan></text></g>
<g id="ps-4"><rect class="w" x="428" y="1157" width="75" height="22"/><text class="t" x="465.5" y="1164.6">GERENCIA DE SALUD<tspan x="465.5" dy="4.8">OCUPACIONAL Y SALUD</tspan><tspan x="465.5" dy="4.8">AMBIENTAL</tspan></text></g>
<g id="ps-5"><rect class="w" x="510" y="1157" width="77" height="22"/><text class="t" x="548.5" y="1167">GERENCIA DE<tspan x="548.5" dy="4.8">MEDICINA COMPLEMENTARIA</tspan></text></g>
<g id="ps-6"><rect class="w" x="352" y="1190" width="70" height="25"/><text class="t" x="387" y="1199.1">SUB GERENCIA DE<tspan x="387" dy="4.8">REGULACIÓN EN ATENCIÓN</tspan><tspan x="387" dy="4.8">INTEGRAL DE SALUD</tspan></text></g>
<g id="ps-7"><rect class="w" x="352" y="1220" width="70" height="24"/><text class="t" x="387" y="1228.6">SUB GERENCIA DE<tspan x="387" dy="4.8">PREVENCIÓN Y</tspan><tspan x="387" dy="4.8">PROMOCIÓN</tspan></text></g>
<g id="ps-8"><rect class="w" x="352" y="1248" width="70" height="25"/><text class="t" x="387" y="1257.1">SUB GERENCIA DE<tspan x="387" dy="4.8">REGULACIÓN DE PRODUCTOS</tspan><tspan x="387" dy="4.8">FARMACÉUTICOS</tspan></text></g>
<g id="ps-9"><rect class="w" x="352" y="1278" width="70" height="24"/><text class="t" x="387" y="1284.2">SUB GERENCIA DE<tspan x="387" dy="4.8">REGULACIÓN EN</tspan><tspan x="387" dy="4.8">DIAGNÓSTICO Y</tspan><tspan x="387" dy="4.8">TRATAMIENTO</tspan></text></g>
<g id="ps-10"><rect class="w" x="352" y="1307" width="70" height="25"/><text class="t" x="387" y="1316.1">SUB GERENCIA DE<tspan x="387" dy="4.8">NORMAS DE GESTIÓN DE</tspan><tspan x="387" dy="4.8">SERVICIOS DE SALUD</tspan></text></g>
<g id="ps-11"><rect class="w" x="428" y="1190" width="70" height="24"/><text class="t" x="463" y="1198.6">SUB GERENCIA DE<tspan x="463" dy="4.8">PREVENCIÓN Y SALUD EN</tspan><tspan x="463" dy="4.8">LA EMPRESA</tspan></text></g>
<g id="ps-12"><rect class="w" x="428" y="1220" width="70" height="24"/><text class="t" x="463" y="1231">SUB GERENCIA DE<tspan x="463" dy="4.8">SALUD AMBIENTAL</tspan></text></g>
<g id="ps-inst"><rect class="y" x="509" y="1372" width="78" height="25"/><text class="t" x="548" y="1383.5">INSTITUTO DE<tspan x="548" dy="4.8">MEDICINA TRADICIONAL</tspan></text></g>

<g id="gc-adulto-mayor"><rect class="c" x="630" y="1073" width="107" height="29"/><text class="tc" x="683.5" y="1083.7">GERENCIA CENTRAL DE LA<tspan x="683.5" dy="5.4">PERSONA ADULTA MAYOR Y</tspan><tspan x="683.5" dy="5.4">PERSONA CON DISCAPACIDAD</tspan></text></g>
<g id="am-1"><rect class="w" x="607" y="1120" width="66" height="23"/><text class="t" x="640" y="1130.5">OFICINA DE<tspan x="640" dy="4.8">APOYO Y SEGUIMIENTO</tspan></text></g>
<g id="am-2"><rect class="w" x="607" y="1155" width="72" height="25"/><text class="t" x="643" y="1164.1">GERENCIA DE LA PERSONA<tspan x="643" dy="4.8">ADULTA MAYOR Y</tspan><tspan x="643" dy="4.8">PRESTACIONES SOCIALES</tspan></text></g>
<g id="am-3"><rect class="w" x="688" y="1155" width="72" height="25"/><text class="t" x="724" y="1164.1">GERENCIA DE<tspan x="724" dy="4.8">LA PERSONA CON</tspan><tspan x="724" dy="4.8">DISCAPACIDAD</tspan></text></g>
<g id="am-4"><rect class="w" x="610" y="1190" width="68" height="24"/><text class="t" x="644" y="1198.6">SUB GERENCIA DE<tspan x="644" dy="4.8">PROTECCIÓN AL ADULTO</tspan><tspan x="644" dy="4.8">MAYOR</tspan></text></g>
<g id="am-5"><rect class="w" x="610" y="1219" width="68" height="24"/><text class="t" x="644" y="1225.2">SUB GERENCIA DE<tspan x="644" dy="4.8">PROMOCIÓN SOCIAL DE</tspan><tspan x="644" dy="4.8">OTROS GRUPOS</tspan><tspan x="644" dy="4.8">VULNERABLES</tspan></text></g>
<g id="am-6"><rect class="w" x="688" y="1190" width="68" height="24"/><text class="t" x="722" y="1198.6">SUB GERENCIA DE<tspan x="722" dy="4.8">REHABILITACIÓN INTEGRAL</tspan><tspan x="722" dy="4.8">Y LABORAL</tspan></text></g>
<g id="am-7"><rect class="w" x="688" y="1219" width="68" height="24"/><text class="t" x="722" y="1227.6">SUB GERENCIA DE<tspan x="722" dy="4.8">INCLUSIÓN Y</tspan><tspan x="722" dy="4.8">ACCESIBILIDAD</tspan></text></g>

<g id="gc-operaciones"><rect class="c" x="868" y="1073" width="108" height="29"/><text class="tc" x="922" y="1086.4">GERENCIA CENTRAL DE<tspan x="922" dy="5.4">OPERACIONES</tspan></text></g>
<g id="op-1"><rect class="w" x="848" y="1120" width="69" height="24"/><text class="t" x="882.5" y="1131">OFICINA DE<tspan x="882.5" dy="4.8">APOYO Y SEGUIMIENTO</tspan></text></g>
<g id="op-2"><rect class="w" x="930" y="1120" width="68" height="24"/><text class="t" x="964" y="1128.6">OFICINA DE<tspan x="964" dy="4.8">INFORMACIÓN DE</tspan><tspan x="964" dy="4.8">OPERACIONES</tspan></text></g>
<g id="op-3"><rect class="w" x="768" y="1155" width="74" height="23"/><text class="t" x="805" y="1163.1">GERENCIA DE<tspan x="805" dy="4.8">PLANEAMIENTO DE LA</tspan><tspan x="805" dy="4.8">OFERTA</tspan></text></g>
<g id="op-4"><rect class="w" x="847" y="1155" width="71" height="23"/><text class="t" x="882.5" y="1163.1">GERENCIA DE<tspan x="882.5" dy="4.8">OPERACIONES</tspan><tspan x="882.5" dy="4.8">TERRITORIALES</tspan></text></g>
<g id="op-5"><rect class="w" x="928" y="1155" width="70" height="23"/><text class="t" x="963" y="1163.1">GERENCIA DE<tspan x="963" dy="4.8">OPERACIONES</tspan><tspan x="963" dy="4.8">ESPECIALES</tspan></text></g>
<g id="op-6"><rect class="w" x="775" y="1190" width="65" height="24"/><text class="t" x="807.5" y="1198.6">SUB GERENCIA DE<tspan x="807.5" dy="4.8">GESTIÓN DE LA</tspan><tspan x="807.5" dy="4.8">OFERTA</tspan></text></g>
<g id="op-7"><rect class="w" x="775" y="1220" width="65" height="25"/><text class="t" x="807.5" y="1229.1">SUB GERENCIA DE<tspan x="807.5" dy="4.8">PROGRAMACIÓN DE LA</tspan><tspan x="807.5" dy="4.8">OFERTA</tspan></text></g>
<g id="op-8"><rect class="w" x="853" y="1190" width="65" height="24"/><text class="t" x="885.5" y="1201">SUB GERENCIA DE<tspan x="885.5" dy="4.8">OPERACIONES LIMA</tspan></text></g>
<g id="op-9"><rect class="w" x="853" y="1220" width="65" height="24"/><text class="t" x="885.5" y="1231">SUB GERENCIA DE<tspan x="885.5" dy="4.8">OPERACIONES NORTE</tspan></text></g>
<g id="op-10"><rect class="w" x="853" y="1248" width="65" height="25"/><text class="t" x="885.5" y="1259.5">SUB GERENCIA DE<tspan x="885.5" dy="4.8">OPERACIONES CENTRO</tspan></text></g>
<g id="op-11"><rect class="w" x="853" y="1278" width="65" height="25"/><text class="t" x="885.5" y="1289.5">SUB GERENCIA DE<tspan x="885.5" dy="4.8">OPERACIONES SUR</tspan></text></g>
<g id="op-12"><rect class="w" x="933" y="1190" width="65" height="24"/><text class="t" x="965.5" y="1198.6">SUB GERENCIA DE<tspan x="965.5" dy="4.8">PRESTACIONES</tspan><tspan x="965.5" dy="4.8">ESPECIALES</tspan></text></g>

<g id="od-1"><rect class="o" x="428" y="1422" width="69" height="34"/><text class="t" x="462.5" y="1429">INSTITUTO DE<tspan x="462.5" dy="4.8">EVALUACIÓN DE</tspan><tspan x="462.5" dy="4.8">TECNOLOGÍAS EN SALUD E</tspan><tspan x="462.5" dy="4.8">INVESTIGACIÓN</tspan></text></g>
<g id="od-2"><rect class="o" x="500" y="1422" width="60" height="34"/><text class="t" x="530" y="1429">CENTRAL DE<tspan x="530" dy="4.8">ABASTECIMIENTO DE</tspan><tspan x="530" dy="4.8">BIENES</tspan><tspan x="530" dy="4.8">ESTRATÉGICOS</tspan></text></g>
<g id="od-3"><rect class="o" x="563" y="1422" width="57" height="34"/><text class="t" x="591.5" y="1431">INSTITUTO NACIONAL<tspan x="591.5" dy="4.8">CARDIOVASCULAR</tspan></text></g>
<g id="od-4"><rect class="o" x="624" y="1422" width="53" height="34"/><text class="t" x="650.5" y="1429">CENTRO NACIONAL<tspan x="650.5" dy="4.8">DE</tspan><tspan x="650.5" dy="4.8">SALUD RENAL</tspan></text></g>
<g id="od-5"><rect class="o" x="680" y="1422" width="58" height="34"/><text class="t" x="709" y="1431">CENTRO NACIONAL<tspan x="709" dy="4.8">DE TELEMEDICINA</tspan></text></g>
<g id="od-6"><rect class="y" x="826" y="1422" width="62" height="34"/><text class="t" x="857" y="1431">GERENCIA DE<tspan x="857" dy="4.8">OFERTA FLEXIBLE</tspan></text></g>
<g id="od-7"><rect class="y" x="892" y="1422" width="62" height="34"/><text class="t" x="923" y="1429">REDES<tspan x="923" dy="4.8">PRESTACIONALES Y</tspan><tspan x="923" dy="4.8">ASISTENCIALES</tspan></text></g>
<g id="od-8"><rect class="y" x="958" y="1422" width="52" height="34"/><text class="t" x="984" y="1429">GERENCIA DE<tspan x="984" dy="4.8">PROCURA Y</tspan><tspan x="984" dy="4.8">TRASPLANTE</tspan></text></g>
</svg>
